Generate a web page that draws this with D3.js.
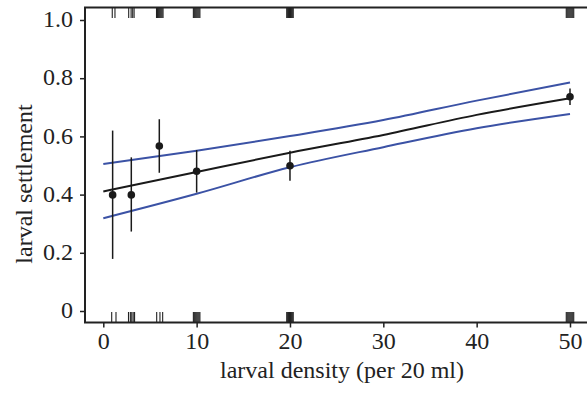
<!DOCTYPE html>
<html><head><meta charset="utf-8">
<script src="https://cdn.jsdelivr.net/npm/d3@7"></script>
<style>body{margin:0;background:#fff}svg{display:block}text{font-family:"Liberation Serif","DejaVu Serif",serif;fill:#222}</style>
</head><body><svg id="c" width="587" height="400"></svg>
<script>
// Data
const densities = [1, 3, 6, 10, 20, 50];
const meanSettle = [0.399, 0.399, 0.567, 0.480, 0.499, 0.736];
const upperErr = [0.620, 0.528, 0.659, 0.553, 0.551, 0.765];
const lowerErr = [0.179, 0.273, 0.475, 0.407, 0.448, 0.708];
const fitX = [0, 10, 20, 30, 40, 50];
const fitY = [0.411, 0.478, 0.544, 0.605, 0.674, 0.731];
const ciUpper = [0.505, 0.551, 0.601, 0.656, 0.723, 0.785];
const ciLower = [0.319, 0.403, 0.494, 0.563, 0.628, 0.677];
const rugSettled = [0.96, 1.25, 2.72, 2.98, 3.15, 3.3,
  5.7, 5.8, 5.9, 6.0, 6.1, 6.2, 6.3, 6.4,
  9.65, 9.75, 9.85, 9.95, 10.05, 10.15, 10.25, 10.35,
  19.65, 19.75, 19.85, 19.95, 20.05, 20.15, 20.25, 20.35,
  49.6, 49.7, 49.8, 49.9, 50.0, 50.1, 50.2, 50.3, 50.4];
const rugNotSettled = [0.9, 1.36, 2.7, 2.9, 3.05, 3.2, 3.35,
  5.72, 6.07, 6.36,
  9.65, 9.75, 9.85, 9.95, 10.05, 10.15, 10.25, 10.35,
  19.65, 19.75, 19.85, 19.95, 20.05, 20.15, 20.25, 20.35,
  49.6, 49.7, 49.8, 49.9, 50.0, 50.1, 50.2, 50.3, 50.4];
const xTicks = [0, 10, 20, 30, 40, 50];
const yTicks = [0, 0.2, 0.4, 0.6, 0.8, 1.0];
const yTickLabels = ["0", "0.2", "0.4", "0.6", "0.8", "1.0"];

const svg = d3.select("#c");
const x = d3.scaleLinear().domain([0, 50]).range([103.3, 570]);
const y = d3.scaleLinear().domain([0, 1]).range([311, 20]);
const frame = {l: 85, t: 7.5, r: 600, b: 322.5};
const rugLen = 10.5;
const ink = "#222";
const blue = "#3b52a5";

// rugs
svg.append("g").selectAll("line").data(rugSettled).join("line")
  .attr("x1", d => x(d)).attr("x2", d => x(d))
  .attr("y1", frame.t).attr("y2", frame.t + rugLen)
  .attr("stroke", ink).attr("stroke-width", 1.1);
svg.append("g").selectAll("line").data(rugNotSettled).join("line")
  .attr("x1", d => x(d)).attr("x2", d => x(d))
  .attr("y1", frame.b).attr("y2", frame.b - rugLen)
  .attr("stroke", ink).attr("stroke-width", 1.1);

// frame
svg.append("rect").attr("x", frame.l).attr("y", frame.t)
  .attr("width", frame.r - frame.l).attr("height", frame.b - frame.t)
  .attr("fill", "none").attr("stroke", ink).attr("stroke-width", 2);

// axes
const xAxis = d3.axisBottom(x).tickValues(xTicks).tickSize(5).tickPadding(6).tickFormat(d3.format("d"));
const gx = svg.append("g").attr("transform", `translate(0,${frame.b})`).call(xAxis);
gx.select(".domain").remove();
gx.selectAll("line").attr("stroke", ink).attr("stroke-width", 1.5);
gx.selectAll("text").attr("font-size", 24).attr("fill", ink).attr("y", 26.5).attr("dy", null);

const yAxis = d3.axisLeft(y).tickValues(yTicks).tickSize(5).tickPadding(7).tickFormat((d, i) => yTickLabels[i]);
const gy = svg.append("g").attr("transform", `translate(${frame.l},0)`).call(yAxis);
gy.select(".domain").remove();
gy.selectAll("line").attr("stroke", ink).attr("stroke-width", 1.5);
gy.selectAll("text").attr("font-size", 24).attr("fill", ink).attr("dy", "0.28em");

// titles
svg.append("text").attr("x", 342).attr("y", 378).attr("text-anchor", "middle")
  .attr("font-size", 24).text("larval density (per 20 ml)");
svg.append("text").attr("transform", "translate(32,184) rotate(-90)").attr("text-anchor", "middle")
  .attr("font-size", 24).text("larval settlement");

// curves
const line = d3.line().curve(d3.curveMonotoneX);
[[ciUpper, blue], [ciLower, blue], [fitY, "#1a1a1a"]].forEach(([ys, col]) => {
  svg.append("path").attr("d", line(fitX.map((fx, i) => [x(fx), y(ys[i])])))
    .attr("fill", "none").attr("stroke", col).attr("stroke-width", 2);
});

// error bars and points
svg.append("g").selectAll("line").data(densities).join("line")
  .attr("x1", d => x(d)).attr("x2", d => x(d))
  .attr("y1", (d, i) => y(upperErr[i])).attr("y2", (d, i) => y(lowerErr[i]))
  .attr("stroke", "#1a1a1a").attr("stroke-width", 1.5);
svg.append("g").selectAll("circle").data(densities).join("circle")
  .attr("cx", d => x(d)).attr("cy", (d, i) => y(meanSettle[i])).attr("r", 3.8)
  .attr("fill", "#1a1a1a");
</script></body></html>
